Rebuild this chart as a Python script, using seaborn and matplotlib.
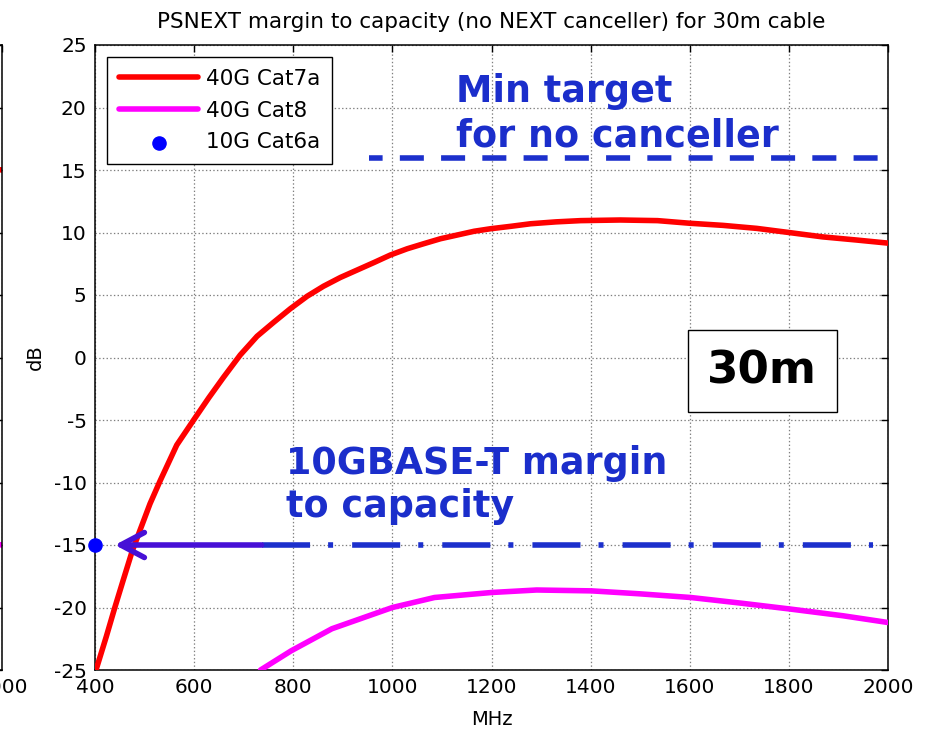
import matplotlib
matplotlib.use("Agg")
import matplotlib.pyplot as plt
import seaborn as sns

# ---------------- data ----------------
cat7a_freq = [402, 423, 440, 457, 475, 491, 511, 531, 565, 599, 630, 659, 693,
              727, 760, 794, 828, 861, 895, 929, 963, 996, 1030, 1063, 1097,
              1131, 1165, 1198, 1240, 1279, 1330, 1380, 1460, 1535, 1600, 1667,
              1735, 1800, 1868, 1936, 2000]
cat7a_db = [-25.0, -22.3, -20.0, -17.8, -15.5, -13.8, -11.7, -9.9, -7.0, -5.0,
            -3.2, -1.6, 0.2, 1.7, 2.8, 3.9, 4.9, 5.7, 6.4, 7.0, 7.6, 8.2, 8.7,
            9.1, 9.5, 9.8, 10.1, 10.3, 10.5, 10.7, 10.85, 10.95, 11.0, 10.95,
            10.74, 10.57, 10.33, 10.0, 9.65, 9.4, 9.15]

cat8_freq = [734, 796, 878, 1000, 1085, 1200, 1291, 1402, 1497, 1602, 1703,
             1804, 1909, 2000]
cat8_db = [-25.0, -23.46, -21.7, -20.0, -19.2, -18.8, -18.6, -18.67, -18.9,
           -19.2, -19.65, -20.13, -20.66, -21.2]

cat6a_freq = [400]
cat6a_db = [-15.0]

target_freq = [953, 2000]
target_db = [16.0, 16.0]

base_freq = [736, 1970]
base_db = [-15.0, -15.0]

arrow_tip_freq = 440
arrow_tail_freq = 736
arrow_db = -15.0

# neighbouring (mostly off-canvas) panel: only its right edge shows
ghost_freq = [1960, 2000]
ghost_cat7a = [15.2, 15.0]
ghost_cat8 = [-14.8, -15.0]

x_ticks = [400, 600, 800, 1000, 1200, 1400, 1600, 1800, 2000]
y_ticks = [-25, -20, -15, -10, -5, 0, 5, 10, 15, 20, 25]

title = "PSNEXT margin to capacity (no NEXT canceller) for 30m cable"
labels = ["40G Cat7a", "40G Cat8", "10G Cat6a"]

# ---------------- style ----------------
sns.set_style("white")
plt.rcParams["font.family"] = ["DejaVu Sans"]
plt.rcParams["lines.scale_dashes"] = False
plt.rcParams["axes.unicode_minus"] = False
for k in ["text.color", "axes.labelcolor", "xtick.color", "ytick.color"]:
    plt.rcParams[k] = "black"

BLUE_TXT = "#1b2ecb"
PURPLE = "#4710d6"

W, H = 932, 735
fig = plt.figure(figsize=(W / 100, H / 100), dpi=100)
ax = fig.add_axes([95 / W, 65 / H, 793 / W, 625 / H])
ghost = fig.add_axes([(2 - 793) / W, 65 / H, 793 / W, 625 / H])


def style_axes(a):
    a.set_xlim(400, 2000)
    a.set_ylim(-25, 25)
    a.set_xticks(x_ticks)
    a.set_yticks(y_ticks)
    a.grid(True, linestyle=":", color="#7f7f7f", linewidth=0.9)
    a.tick_params(direction="in", top=True, right=True, length=5,
                  width=1, colors="black", labelsize=14.5, pad=6)
    for s in a.spines.values():
        s.set_visible(True)
        s.set_color("black")
        s.set_linewidth(1.1)


style_axes(ghost)
ghost.tick_params(labelleft=False)
ghost.set_xticklabels([""] * (len(x_ticks) - 1) + [str(x_ticks[-1])])
sns.lineplot(x=ghost_freq, y=ghost_cat7a, ax=ghost, color="red", linewidth=4)
sns.lineplot(x=ghost_freq, y=ghost_cat8, ax=ghost, color="magenta", linewidth=4)

style_axes(ax)

sns.lineplot(x=cat7a_freq, y=cat7a_db, ax=ax, color="red", linewidth=4,
             zorder=4)
h_cat7a = ax.lines[-1]
sns.lineplot(x=cat8_freq, y=cat8_db, ax=ax, color="magenta", linewidth=4,
             zorder=4)
h_cat8 = ax.lines[-1]

# reference lines
ax.plot(target_freq, target_db, color="#1c30cc", linewidth=4,
        linestyle=(7.5, (17.3, 12.4)), zorder=3)
ax.plot(base_freq, base_db, color="#1c30cc", linewidth=4,
        linestyle=(0, (34.6, 13.0, 3.6, 13.7)), zorder=3)

# arrow
ax.annotate("", xy=(arrow_tip_freq, arrow_db), xytext=(arrow_tail_freq, arrow_db),
            arrowprops=dict(arrowstyle="->,head_length=0.85,head_width=0.45",
                            color=PURPLE, lw=4, shrinkA=0, shrinkB=0,
                            mutation_scale=20), zorder=5)

sns.scatterplot(x=cat6a_freq, y=cat6a_db, ax=ax, color="blue", s=90,
                marker="o", edgecolor="blue", linewidth=1, clip_on=False,
                zorder=6, legend=False)
h_cat6a = ax.collections[-1]

# annotations
ax.text(1128, 22.8, "Min target\nfor no canceller", color=BLUE_TXT,
        fontsize=26.3, fontweight="bold", ha="left", va="top", linespacing=1.27,
        zorder=7)
ax.text(785, -7.0, "10GBASE-T margin\nto capacity", color=BLUE_TXT,
        fontsize=26.3, fontweight="bold", ha="left", va="top", linespacing=1.2,
        zorder=7)
ax.text(1746, -1.1, "30m", color="black", fontsize=32.5, fontweight="bold",
        ha="center", va="center", zorder=7,
        bbox=dict(boxstyle="square,pad=0.43", facecolor="white",
                  edgecolor="black", linewidth=1))

leg = ax.legend([h_cat7a, h_cat8, h_cat6a], labels, loc="upper left",
                bbox_to_anchor=(0.015, 0.981), borderaxespad=0,
                fontsize=15.5, handlelength=3.7, handletextpad=0.35,
                labelspacing=0.55, borderpad=0.55, fancybox=False,
                framealpha=1, edgecolor="black", scatterpoints=1)
leg.get_frame().set_linewidth(1)
leg.set_zorder(8)

ax.set_title(title, fontsize=15.5, pad=12)
ax.set_xlabel("MHz", fontsize=14, labelpad=9)
ax.set_ylabel("dB", fontsize=14, labelpad=6)

fig.savefig("out.png", dpi=100)
